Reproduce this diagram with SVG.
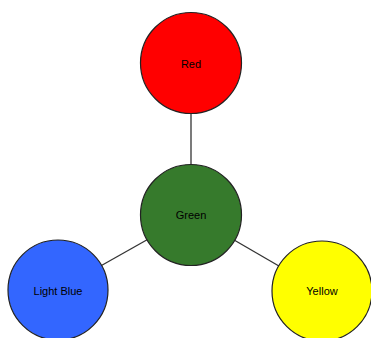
<svg xmlns="http://www.w3.org/2000/svg" width="371" height="338" viewBox="0 0 371 338">
<style>
.node circle{stroke:#222;stroke-width:1.2}
.node text{font-family:"Liberation Sans",Arial,sans-serif;font-size:11px;text-anchor:middle;dominant-baseline:central;fill:#000}
.conn line{stroke:#333;stroke-width:1.3}
</style>
<rect width="371" height="338" fill="#fff"/>
<g id="connectors" class="conn">
<line x1="191" y1="63" x2="191" y2="215"/>
<line x1="191" y1="215" x2="58" y2="290"/>
<line x1="191" y1="215" x2="322" y2="291"/>
</g>
<g id="red" class="node"><circle cx="191" cy="63" r="50.5" fill="#ff0000"/><text x="191" y="64">Red</text></g>
<g id="green" class="node"><circle cx="191" cy="215" r="50.5" fill="#367a2c"/><text x="191" y="215">Green</text></g>
<g id="lightblue" class="node"><circle cx="58" cy="290" r="50" fill="#3366ff"/><text x="58" y="291">Light Blue</text></g>
<g id="yellow" class="node"><circle cx="322" cy="291" r="50" fill="#ffff00"/><text x="322" y="291">Yellow</text></g>
</svg>
